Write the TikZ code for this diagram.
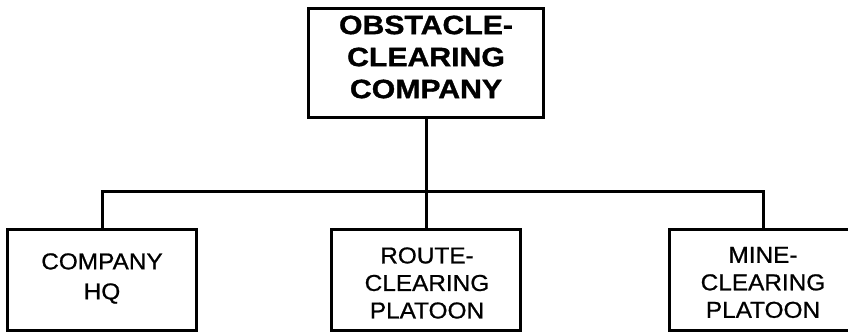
\documentclass[tikz,border=0pt]{standalone}
\usepackage{fontspec}
\setmainfont[FakeStretch=1.06,FakeBold=0.8,BoldFeatures={FakeStretch=1.14,FakeBold=1.2}]{Liberation Sans}
\begin{document}
\begin{tikzpicture}[x=1pt,y=-1pt,
  box/.style={draw,line width=3pt,rectangle,inner sep=0pt,minimum width=189pt,minimum height=101pt},
  conn/.style={line width=3pt},
  toptext/.style={font=\bfseries\fontsize{26.5}{32}\selectfont,align=center,inner sep=0pt},
  subtext/.style={font=\fontsize{23}{27.5}\selectfont,align=center,inner sep=0pt},
  hqtext/.style={font=\fontsize{23}{30}\selectfont,align=center,inner sep=0pt}]
\useasboundingbox (0,0) rectangle (848,333);
\node[box,minimum width=235pt,minimum height=109pt] (top) at (426,62.5) {};
\node[box] (hq) at (102,279.5) {};
\node[box] (mid) at (426,279.5) {};
\node[box] (mine) at (763.5,279.5) {};
\coordinate (bus) at (426,191);
\draw[conn] (top.south) -- (mid.north);
\draw[conn] (hq.north) |- (bus) -| (mine.north);
\node[toptext] (toptxt) at (426,57) {OBSTACLE-\\CLEARING\\COMPANY};
\node[hqtext] (hqtxt) at (102,278.5) {COMPANY\\HQ};
\node[subtext] (midtxt) at (427,283) {ROUTE-\\CLEARING\\PLATOON};
\node[subtext] (minetxt) at (763,282.5) {MINE-\\CLEARING\\PLATOON};
\end{tikzpicture}
\end{document}
